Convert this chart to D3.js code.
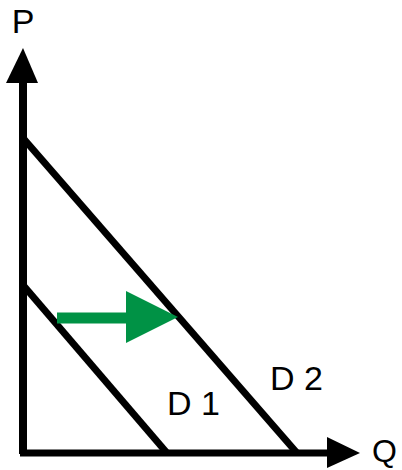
<!DOCTYPE html>
<html>
<head>
<meta charset="utf-8">
<script src="https://cdn.jsdelivr.net/npm/d3@7"></script>
<style>
  html, body { margin: 0; padding: 0; background: #fff; }
  svg { display: block; }
  text { font-family: "Liberation Sans", Arial, sans-serif; }
</style>
</head>
<body>
<svg id="chart"></svg>
<script>
// Values (Q and P in arbitrary units from the origin)
const axisLabels = ["P", "Q"];
const qMax = 337;          // end of the Q axis (arrow tip)
const pMax = 405;          // end of the P axis (arrow tip)

// demand curves: P intercept and Q intercept
const curveNames = ["D 1", "D 2"];
const pIntercepts = [168, 315];
const qIntercepts = [144, 274];
// label anchor positions (Q, P)
const labelQ = [144, 247];
const labelP = [38, 63];

// shift arrow: start Q, head base Q, tip Q, at price level
const shiftQ = [34, 103, 155];
const shiftP = 135;

const width = 402;
const height = 470;
const origin = { x: 23, y: 453 };

const svg = d3.select("#chart")
  .attr("width", width)
  .attr("height", height);

const x = d3.scaleLinear().domain([0, qMax]).range([origin.x, 360]);
const y = d3.scaleLinear().domain([0, pMax]).range([origin.y, 48]);

const line = d3.line().x(d => x(d[0])).y(d => y(d[1]));

// Axes
svg.append("path")
  .attr("d", line([[0, -1], [0, pMax - 30]]))
  .attr("stroke", "#000")
  .attr("stroke-width", 8)
  .attr("fill", "none");

svg.append("path")
  .attr("d", line([[-3, 0], [qMax - 30, 0]]))
  .attr("stroke", "#000")
  .attr("stroke-width", 7)
  .attr("fill", "none");

// Axis arrowheads
svg.append("path")
  .attr("d", line([[0, pMax], [-17 * qMax / (360 - 23), pMax - 35], [15 * qMax / (360 - 23), pMax - 35]]) + "Z")
  .attr("fill", "#000");

svg.append("path")
  .attr("d", line([[qMax, 0], [qMax - 33, 16], [qMax - 33, -15]]) + "Z")
  .attr("fill", "#000");

// Axis labels
svg.append("text")
  .attr("x", x(0))
  .attr("y", 33)
  .attr("text-anchor", "middle")
  .attr("font-size", 34)
  .text(axisLabels[0]);

svg.append("text")
  .attr("x", 372)
  .attr("y", 462)
  .attr("font-size", 32)
  .text(axisLabels[1]);

// Demand curves
curveNames.forEach((name, i) => {
  svg.append("path")
    .attr("d", line([[0, pIntercepts[i]], [qIntercepts[i], 0]]))
    .attr("stroke", "#000")
    .attr("stroke-width", 7)
    .attr("fill", "none");

  svg.append("text")
    .attr("x", x(labelQ[i]))
    .attr("y", y(labelP[i]))
    .attr("font-size", 34)
    .text(name);
});

// Shift arrow
svg.append("path")
  .attr("d", line([[shiftQ[0], shiftP], [shiftQ[1] + 2, shiftP]]))
  .attr("stroke", "#009245")
  .attr("stroke-width", 11)
  .attr("fill", "none");

svg.append("path")
  .attr("d", line([[shiftQ[2], shiftP + 1], [shiftQ[1], shiftP + 27], [shiftQ[1], shiftP - 25]]) + "Z")
  .attr("fill", "#009245");
</script>
</body>
</html>
